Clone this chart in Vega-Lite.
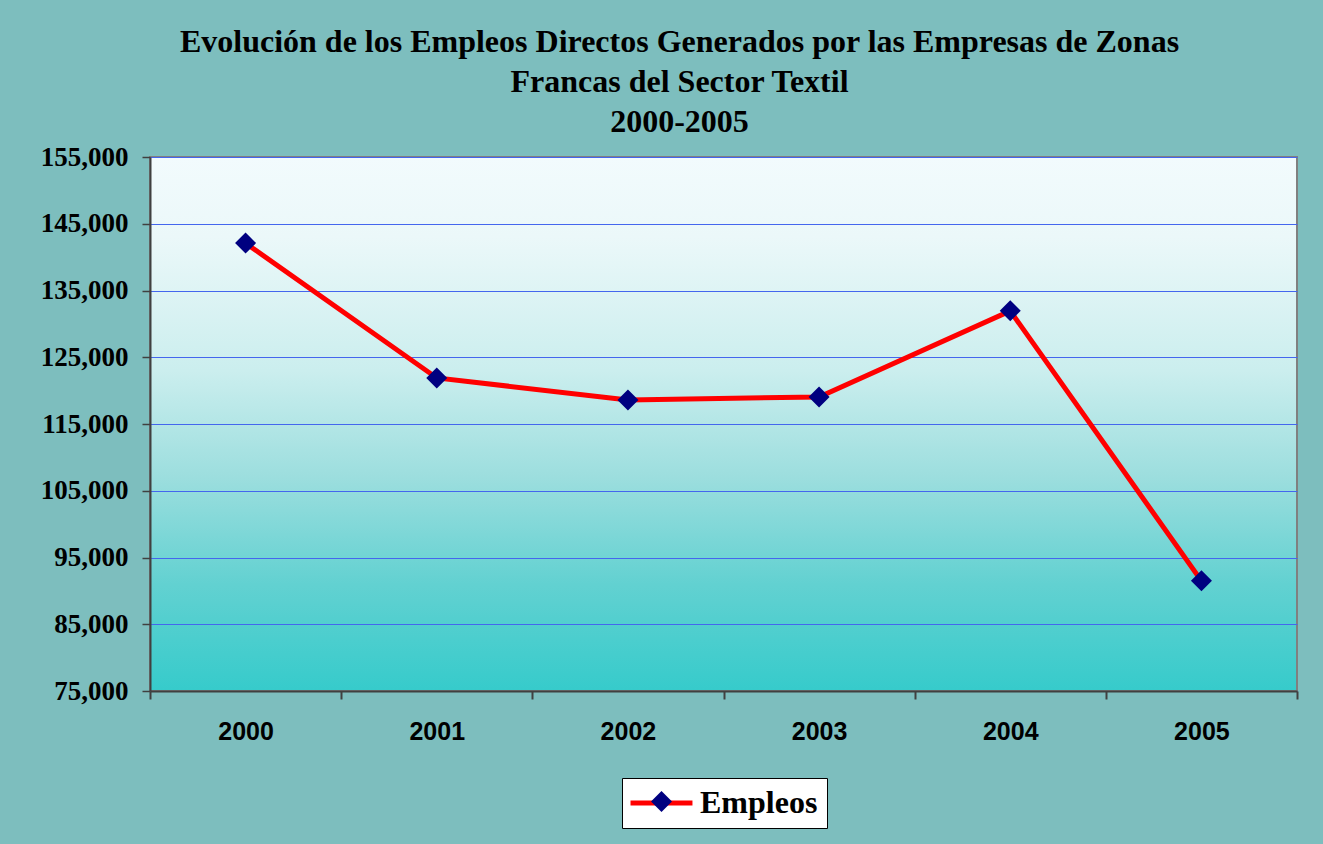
{
  "$schema": "https://vega.github.io/schema/vega-lite/v6.json",
  "autosize": {"type": "none"},
  "width": 1147,
  "height": 534,
  "padding": {"left": 150, "top": 157, "right": 26, "bottom": 153},
  "background": "#7dbebe",
  "config": {
    "view": {
      "fill": {"gradient": "linear", "x1": 0, "y1": 0, "x2": 0, "y2": 1, "stops": [
        {"offset": 0, "color": "#f2fbfd"},
        {"offset": 0.15, "color": "#ebf8f9"},
        {"offset": 0.4, "color": "#cbeeee"},
        {"offset": 0.6, "color": "#9cdede"},
        {"offset": 0.8, "color": "#62d1d1"},
        {"offset": 1, "color": "#36cbcb"}
      ]},
      "stroke": "#808080",
      "strokeWidth": 2
    }
  },
  "title": {
    "text": ["Evolución de los Empleos Directos Generados por las Empresas de Zonas", "Francas del Sector Textil", "2000-2005"],
    "font": "Liberation Serif",
    "fontSize": 32,
    "fontWeight": "bold",
    "color": "#000000",
    "lineHeight": 40,
    "anchor": "middle",
    "frame": "group",
    "dx": -44,
    "offset": 4
  },
  "data": {
    "values": [
      {"anio": "2000", "empleos": 142100, "serie": "Empleos"},
      {"anio": "2001", "empleos": 121900, "serie": "Empleos"},
      {"anio": "2002", "empleos": 118600, "serie": "Empleos"},
      {"anio": "2003", "empleos": 119050, "serie": "Empleos"},
      {"anio": "2004", "empleos": 131950, "serie": "Empleos"},
      {"anio": "2005", "empleos": 91500, "serie": "Empleos"}
    ]
  },
  "encoding": {
    "x": {
      "field": "anio",
      "type": "ordinal",
      "scale": {"paddingInner": 0, "paddingOuter": 0},
      "axis": {
        "title": null,
        "labelAngle": 0,
        "labelFont": "Liberation Sans",
        "labelFontSize": 25,
        "labelFontWeight": "bold",
        "labelColor": "#000000",
        "labelPadding": 20,
        "tickBand": "extent",
        "tickSize": 8,
        "tickColor": "#404040",
        "tickWidth": 2,
        "domainColor": "#404040",
        "domainWidth": 2,
        "grid": false
      }
    },
    "y": {
      "field": "empleos",
      "type": "quantitative",
      "scale": {"domain": [75000, 155000], "nice": false, "zero": false},
      "axis": {
        "title": null,
        "values": [75000, 85000, 95000, 105000, 115000, 125000, 135000, 145000, 155000],
        "format": ",d",
        "labelFont": "Liberation Serif",
        "labelFontSize": 27,
        "labelFontWeight": "bold",
        "labelColor": "#000000",
        "labelPadding": 14,
        "tickSize": 8,
        "tickColor": "#404040",
        "tickWidth": 1.5,
        "domainColor": "#404040",
        "domainWidth": 2,
        "grid": true,
        "gridColor": "#4466ee",
        "gridWidth": 1
      }
    }
  },
  "layer": [
    {
      "mark": {"type": "line", "strokeWidth": 5},
      "encoding": {
        "stroke": {
          "field": "serie",
          "type": "nominal",
          "scale": {"range": ["#ff0000"]},
          "legend": {
            "title": null,
            "orient": "none",
            "legendX": 472,
            "legendY": 621,
            "symbolType": "M-1.57,0H4.33",
            "symbolSize": 441,
            "symbolStrokeWidth": 5,
            "symbolStrokeColor": "#ff0000",
            "symbolFillColor": "transparent",
            "labelFont": "Liberation Serif",
            "labelFontSize": 32,
            "labelFontWeight": "bold",
            "labelColor": "#000000",
            "labelOffset": 37,
            "padding": 9,
            "fillColor": "#ffffff",
            "strokeColor": "#000000"
          }
        }
      }
    },
    {
      "mark": {"type": "point", "filled": true, "fill": "#000080", "opacity": 1, "size": 441},
      "encoding": {
        "shape": {
          "datum": "Empleos",
          "scale": {"range": ["diamond"]},
          "legend": {
            "title": null,
            "orient": "none",
            "legendX": 501,
            "legendY": 634,
            "symbolSize": 441,
            "symbolFillColor": "#000080",
            "symbolStrokeWidth": 0,
            "symbolOpacity": 1,
            "labelExpr": "''",
            "padding": 0
          }
        }
      }
    }
  ]
}
